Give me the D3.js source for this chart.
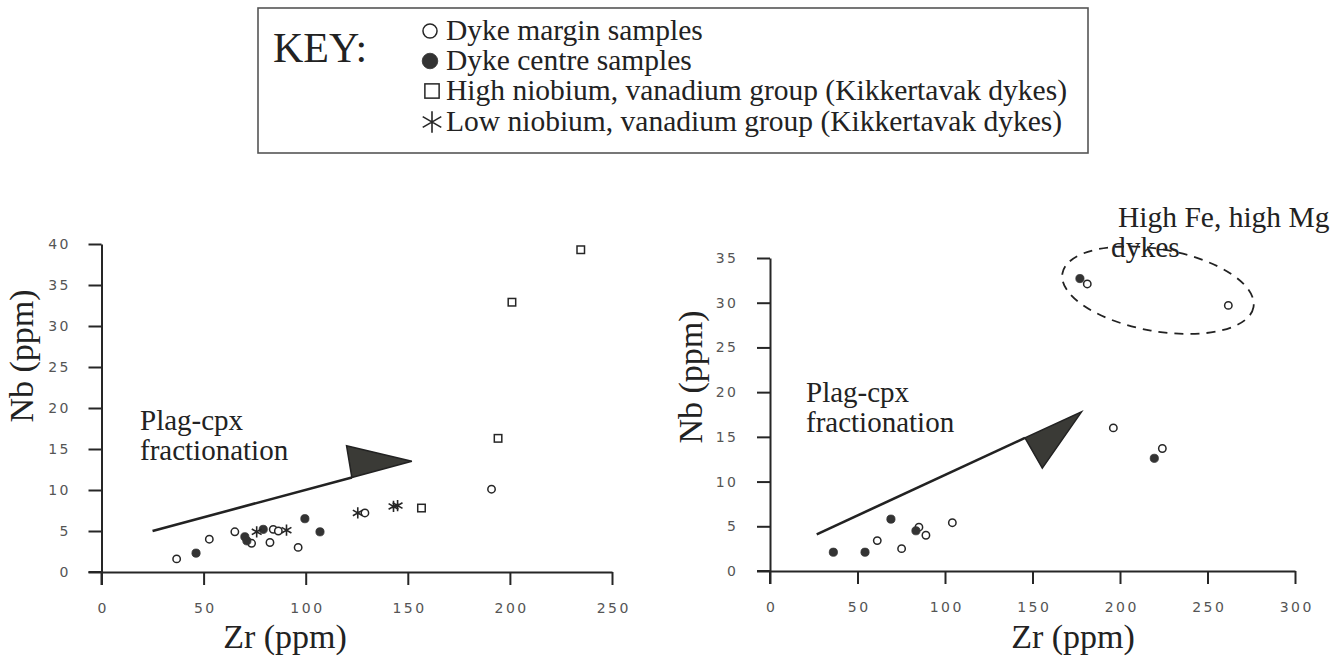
<!DOCTYPE html>
<html><head><meta charset="utf-8">
<script src="https://cdn.jsdelivr.net/npm/d3@7"></script>
<style>
html,body{margin:0;padding:0;background:#fff;}
svg{display:block;}
.tick text{font-family:"DejaVu Sans",sans-serif;font-size:14px;fill:#555;letter-spacing:2.5px;}
.serif{font-family:"Liberation Serif","Times New Roman",serif;fill:#222;}
</style></head>
<body>
<svg id="c" width="1344" height="660"></svg>
<script>
// ---------- data ----------
// Left panel (Zr, Nb)
const leftMargin = [[36.8,1.6],[52.8,4.0],[65.3,4.9],[73.5,3.5],[82.5,3.6],[84.1,5.2],[86.6,5.0],[96.3,3.0],[129,7.2],[191,10.1]];
const leftCentre = [[46.3,2.3],[70.2,4.3],[71.2,3.8],[79.2,5.2],[99.6,6.5],[107,4.9]];
const leftHighNb = [[156.7,7.8],[194.2,16.3],[201,32.9],[234.7,39.3]];
const leftLowNb  = [[76,4.9],[90.6,5.1],[125.5,7.2],[143,8.0],[145,8.1]];
// Right panel (Zr, Nb)
const rightMargin = [[61.3,3.4],[75.2,2.5],[85.1,4.9],[89.1,4.0],[104.2,5.4],[196.2,16.0],[224.2,13.7],[181.3,32.1],[261.9,29.7]];
const rightCentre = [[36.2,2.1],[54.3,2.1],[69.1,5.8],[83.4,4.5],[219.6,12.6],[177.1,32.7]];
// Axis ticks
const leftXTicks = [0,50,100,150,200,250];
const leftYTicks = [0,5,10,15,20,25,30,35,40];
const rightXTicks = [0,50,100,150,200,250,300];
const rightYTicks = [0,5,10,15,20,25,30,35];
// Legend
const legendLabels = ["Dyke margin samples","Dyke centre samples","High niobium, vanadium group (Kikkertavak dykes)","Low niobium, vanadium group (Kikkertavak dykes)"];
const legendSymbols = ["open","filled","square","asterisk"];
// Annotations (data coordinates)
const leftArrow = {from:[25,5], to:[152,13.5], headBack:[[122.6,11.53],[120,15.4]]};
const rightArrow = {from:[26.7,4.1], to:[178,17.8], headBack:[[145.7,14.88],[155.6,11.5]]};
const ellipseCentre = [221.7, 31.4];

const svg = d3.select("#c");
const ink = "#262626";
const SERIF = "'Liberation Serif','Times New Roman',serif";

function drawSymbol(g, type, x, y, scale){
  scale = scale || 1;
  if(type==="open"){
    g.append("circle").attr("cx",x).attr("cy",y).attr("r",3.7*scale)
     .attr("fill","#fff").attr("stroke",ink).attr("stroke-width",1.5);
  } else if(type==="filled"){
    g.append("circle").attr("cx",x).attr("cy",y).attr("r",4.1*scale)
     .attr("fill","#333").attr("stroke","#333").attr("stroke-width",0.8);
  } else if(type==="square"){
    const s=7.5*scale;
    g.append("rect").attr("x",x-s/2).attr("y",y-s/2).attr("width",s).attr("height",s)
     .attr("fill","#fff").attr("stroke",ink).attr("stroke-width",1.5);
  } else {
    g.append("path").attr("d",d3.symbol(d3.symbolAsterisk, 90*scale*scale)())
     .attr("transform",`translate(${x},${y})`).attr("fill","none")
     .attr("stroke",ink).attr("stroke-width",1.6);
  }
}

function serifText(g, fs){
  return g.append("text").attr("class","serif").attr("font-family",SERIF).attr("font-size",fs).attr("fill","#222");
}

function panel(cfg){
  const g = svg.append("g");
  const x = d3.scaleLinear().domain(cfg.xDomain).range(cfg.xRange);
  const y = d3.scaleLinear().domain(cfg.yDomain).range(cfg.yRange);
  const xa = g.append("g").attr("transform",`translate(0,${cfg.yRange[0]})`)
    .call(d3.axisBottom(x).tickValues(cfg.xTicks).tickSize(13).tickSizeOuter(0).tickPadding(18).tickFormat(d3.format("d")));
  const ya = g.append("g").attr("transform",`translate(${cfg.xRange[0]},0)`)
    .call(d3.axisLeft(y).tickValues(cfg.yTicks).tickSize(13).tickSizeOuter(0).tickPadding(cfg.yPad).tickFormat(d3.format("d")));
  [xa,ya].forEach(a=>{
    a.select(".domain").attr("stroke",ink).attr("stroke-width",2);
    a.selectAll(".tick line").attr("stroke",ink).attr("stroke-width",2);
  });
  xa.selectAll(".tick text").attr("dx","1.25px");
  ya.selectAll(".tick text").attr("dx","2.5px");
  // extend x axis to the left of the y axis (as in the figure)
  g.append("line").attr("x1",cfg.xRange[0]-13).attr("x2",cfg.xRange[0])
   .attr("y1",cfg.yRange[0]).attr("y2",cfg.yRange[0]).attr("stroke",ink).attr("stroke-width",2);
  g.append("line").attr("x1",cfg.xRange[0]).attr("x2",cfg.xRange[0])
   .attr("y1",cfg.yRange[0]).attr("y2",cfg.yRange[0]+13).attr("stroke",ink).attr("stroke-width",2);

  // axis titles
  serifText(g,34).attr("x",cfg.xLabelX).attr("y",648).attr("text-anchor","middle").text("Zr (ppm)");
  serifText(g,34).attr("transform",`translate(${cfg.yLabelX},${cfg.yLabelY}) rotate(-90)`)
   .attr("text-anchor","middle").text("Nb (ppm)");

  // arrow
  const a = cfg.arrow;
  g.append("line").attr("x1",x(a.from[0])).attr("y1",y(a.from[1]))
   .attr("x2",x(a.headBack[0][0])).attr("y2",y(a.headBack[0][1]))
   .attr("stroke","#222").attr("stroke-width",2.6);
  const head = [a.headBack[0], a.headBack[1], a.to].map(p=>[x(p[0]),y(p[1])]);
  g.append("path").attr("d",d3.line()(head)+"Z").attr("fill","#3a3a36").attr("stroke","#222").attr("stroke-width",1.5);

  // annotation text
  const t = serifText(g,29);
  t.append("tspan").attr("x",cfg.noteX).attr("y",cfg.noteY).text("Plag-cpx");
  t.append("tspan").attr("x",cfg.noteX).attr("y",cfg.noteY+30).text("fractionation");

  const pts = g.append("g");
  cfg.series.forEach(s=>{
    s.data.forEach(d=>drawSymbol(pts, s.type, x(d[0]), y(d[1])));
  });
  return {g,x,y};
}

panel({
  xDomain:[0,250], xRange:[101.5,612], yDomain:[0,40], yRange:[572,244],
  xTicks:leftXTicks, yTicks:leftYTicks, yPad:20,
  xLabelX:285, yLabelX:33, yLabelY:356,
  arrow:leftArrow, noteX:140, noteY:430,
  series:[{type:"open",data:leftMargin},{type:"filled",data:leftCentre},{type:"square",data:leftHighNb},{type:"asterisk",data:leftLowNb}]
});

const R = panel({
  xDomain:[0,300], xRange:[770,1295], yDomain:[0,35], yRange:[571,258],
  xTicks:rightXTicks, yTicks:rightYTicks, yPad:21,
  xLabelX:1073, yLabelX:702, yLabelY:377,
  arrow:rightArrow, noteX:806, noteY:402,
  series:[{type:"open",data:rightMargin},{type:"filled",data:rightCentre}]
});

// dashed group ellipse
R.g.append("ellipse").attr("cx",0).attr("cy",0).attr("rx",97).attr("ry",41)
  .attr("transform",`translate(${R.x(ellipseCentre[0])},${R.y(ellipseCentre[1])}) rotate(10)`)
  .attr("fill","none").attr("stroke","#222").attr("stroke-width",1.8).attr("stroke-dasharray","9,7");
const ht = serifText(R.g,29.5);
ht.append("tspan").attr("x",1118).attr("y",227).text("High Fe, high Mg");
ht.append("tspan").attr("x",1111).attr("y",257).text("dykes");

// ---------- legend ----------
const lg = svg.append("g");
lg.append("rect").attr("x",258).attr("y",8).attr("width",830).attr("height",145)
  .attr("fill","none").attr("stroke","#555").attr("stroke-width",1.6);
serifText(lg,42).attr("x",273).attr("y",62).text("KEY:");
const legendBase = [40,70,100,131];
legendLabels.forEach((lab,i)=>{
  const by = legendBase[i];
  drawSymbol(lg, legendSymbols[i], legendSymbols[i]==="square"||legendSymbols[i]==="asterisk"?432:430, by-9, 1.9);
  serifText(lg,29.5).attr("x",446).attr("y",by).text(lab);
});
</script>
</body></html>
